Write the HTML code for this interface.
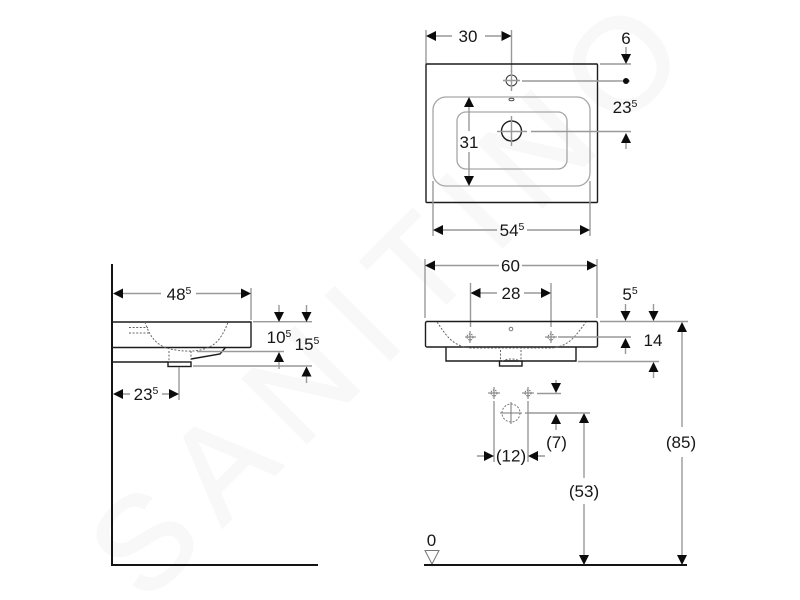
<!DOCTYPE html>
<html>
<head>
<meta charset="utf-8">
<style>
html,body{margin:0;padding:0;background:#fff;width:800px;height:600px;overflow:hidden}
svg{display:block}
text{font-family:"Liberation Sans",sans-serif;font-size:17px;fill:#161616;text-anchor:middle}
.s{font-size:10.5px}
.g{stroke:#999;stroke-width:1.4;fill:none}
.k{stroke:#1c1c1c;stroke-width:1.4;fill:none}
.d{stroke:#666;stroke-width:1;stroke-dasharray:2 1.6;fill:none}
.a{fill:#0c0c0c;stroke:none}
.wm{font-size:132px;fill:#f8f8f8;stroke:#f8f8f8;stroke-width:2;letter-spacing:21px;text-anchor:start}
</style>
</head>
<body>
<svg width="800" height="600" viewBox="0 0 800 600" xmlns="http://www.w3.org/2000/svg">
<text class="wm" transform="translate(145,605) rotate(-45)">SANITINO</text>

<!-- TOP VIEW -->
<path class="g" d="M426 30V64M511.5 30V72M436 36H452M485 36H501"/>
<path class="a" d="M426 36l10-5v10zM511.5 36l-10-5v10z"/>
<text x="468" y="42">30</text>
<rect class="k" x="426" y="64" width="171.5" height="138.5" rx="1"/>
<rect x="433" y="97" width="157" height="89" rx="13" fill="none" stroke="#a6a6a6" stroke-width="1.3"/>
<rect x="457" y="112" width="110" height="57" rx="9" fill="none" stroke="#a6a6a6" stroke-width="1.3"/>
<circle cx="511.500" cy="80.500" r="5.500" fill="none" stroke="#333" stroke-width="1"/>
<path class="g" d="M511.500 70V91M503 80.500H520M522 81H630M600 64H631"/>
<circle class="a" cx="626" cy="81" r="3"/>
<path class="g" d="M626 47V55"/>
<path class="a" d="M626 64l-5-10h10z"/>
<text x="626" y="44">6</text>
<text x="625" y="113">23<tspan class="s" dy="-6">5</tspan></text>
<ellipse cx="511.500" cy="99.500" rx="2.500" ry="1.300" fill="none" stroke="#333" stroke-width=".9"/>
<circle class="k" cx="511.500" cy="131" r="10"/>
<path class="g" d="M511.500 116V146M497 131.500H527M531 131.500H631M626 143V149"/>
<path class="a" d="M626 133l-5 10h10z"/>
<path class="g" d="M469 107V131M469 152V176"/>
<path class="a" d="M469 97l-5 10h10zM469 186l-5-10h10z"/>
<text x="469" y="148">31</text>
<path class="g" d="M433 181V236M590 181V236M443 230H497M527 230H580"/>
<path class="a" d="M433 230l10-5v10zM590 230l-10-5v10z"/>
<text x="512" y="236">54<tspan class="s" dy="-6">5</tspan></text>

<!-- FRONT VIEW -->
<path class="g" d="M425 259V318M597 259V318M435 265.500H499M522 265.500H587M470.500 283V327M551 283V327M480 293H497M524 293H541"/>
<path class="a" d="M425 265.500l10-5v10zM597 265.500l-10-5v10zM470.500 293l10-5v10zM551 293l-10-5v10z"/>
<text x="510.500" y="271.500">60</text>
<text x="511" y="299">28</text>
<rect class="k" x="425.500" y="321.500" width="172" height="25.500" rx="1.500"/>
<path class="k" d="M446 347V361H576V347"/>
<rect class="k" x="499.500" y="361" width="22.500" height="5"/>
<path class="d" d="M437 322C446 335 452 346 470 348H552C570 346 576 335 586 322"/>
<path class="d" d="M500.500 350V361M521 350V361M502 361Q511 357 520 361"/>
<g stroke="#777" stroke-width="1" fill="none">
<path d="M470 331V343M465 337H476M551 331V343M545 337H557"/>
<circle cx="470" cy="337" r="3" stroke-dasharray="1.500 1"/>
<circle cx="551" cy="337" r="3" stroke-dasharray="1.500 1"/>
<circle cx="511" cy="329" r="1.800"/>
</g>
<path class="g" d="M558 337H631M600 321.500H688M578 361.500H659M625.500 304V312M653.500 304V312M625.500 348V354M653.500 372V378"/>
<path class="a" d="M625.500 321l-5-10h10zM653.500 321l-5-10h10zM625.500 338l-5 10h10zM653.500 362l-5 10h10z"/>
<text x="630" y="300">5<tspan class="s" dy="-6">5</tspan></text>
<text x="653" y="346">14</text>
<path class="g" d="M682 332V427M682 457V556M584 423V478M584 504V556"/>
<path class="a" d="M682 322l-5 10h10zM682 565l-5-10h10zM584 413l-5 10h10zM584 565l-5-10h10z"/>
<text x="681" y="448">(85)</text>
<text x="584" y="497">(53)</text>
<g stroke="#777" stroke-width="1" fill="none">
<path d="M494 387V399M488 393H500M528 387V399M522 393H534"/>
<circle cx="494" cy="393" r="3" stroke-dasharray="1.500 1"/>
<circle cx="528" cy="393" r="3" stroke-dasharray="1.500 1"/>
<circle cx="511" cy="413" r="9" stroke-dasharray="2 1.500"/>
<path d="M511 402V424M500 413H522"/>
</g>
<path class="g" d="M525 413H590M537 393.500H561M556 380V384M556 424V430M494 401V462M528 401V462M477 456H485M537 456H545"/>
<path class="a" d="M556 393l-5-10h10zM556 414l-5 10h10zM494 456l-10-5v10zM528 456l10-5v10z"/>
<text x="556.500" y="448">(7)</text>
<text x="511" y="461.500">(12)</text>
<text x="431.500" y="546">0</text>
<path d="M425 550.500H439L432 564z" fill="none" stroke="#777" stroke-width="1"/>
<path d="M424 565H687" stroke="#141414" stroke-width="2" fill="none"/>

<!-- SIDE VIEW -->
<path d="M112 264V565H318" stroke="#141414" stroke-width="2" fill="none"/>
<path class="g" d="M251 288V320M123 293.500H161M196 293.500H241"/>
<path class="a" d="M113 293.500l10-5v10zM251 293.500l-10-5v10z"/>
<text x="179" y="300">48<tspan class="s" dy="-6">5</tspan></text>
<path class="k" d="M112 322H251V346Q251 347.500 249.500 347.500H112M112 362H168M191 359L220 354L225.500 347.500"/>
<rect class="k" x="168" y="362" width="23" height="4.500"/>
<path class="d" d="M145 322C150 338 158 348 176 350C194 353 212 350 220 338C224 332 226 328 228 322"/>
<path class="d" d="M129 327.500H148M129 333H150M169 351V362M191 351V360"/>
<path class="g" d="M253 321.700H312M197 351.500H284M193 366H312M279 305V313M306.500 305V313M279 362V369M306.500 376V383M179 367V400M123 394H130M162 394H169"/>
<path class="a" d="M279 322l-5-10h10zM306.500 322l-5-10h10zM279 352l-5 10h10zM306.500 366.500l-5 10h10zM113 394l10-5v10zM179 394l-10-5v10z"/>
<text x="279" y="343">10<tspan class="s" dy="-6">5</tspan></text>
<text x="307" y="350">15<tspan class="s" dy="-6">5</tspan></text>
<text x="146" y="400">23<tspan class="s" dy="-6">5</tspan></text>
</svg>
</body>
</html>
